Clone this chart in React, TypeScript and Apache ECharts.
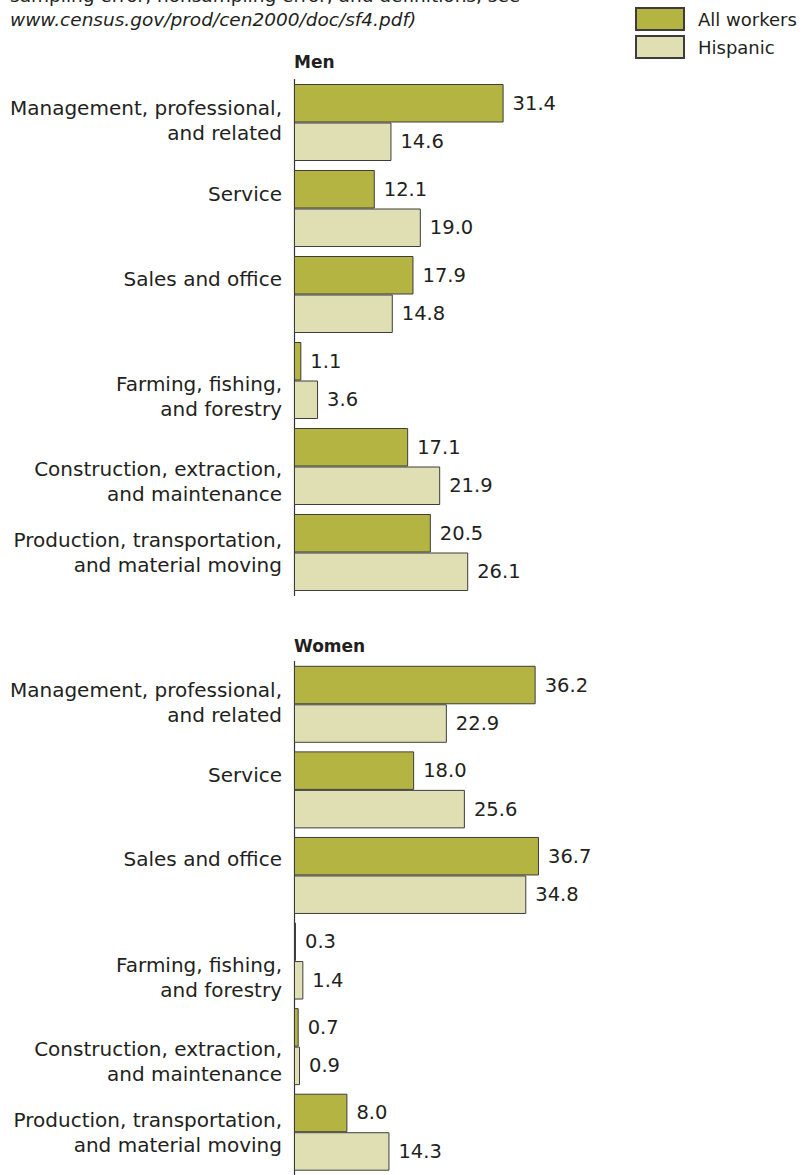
import React, { useEffect, useRef } from "react";
import * as echarts from "echarts";

const categories = [
  "Management, professional,\nand related",
  "Service",
  "Sales and office",
  "Farming, fishing,\nand forestry",
  "Construction, extraction,\nand maintenance",
  "Production, transportation,\nand material moving",
];
const seriesNames = ["All workers", "Hispanic"];
const menAll = [31.4, 12.1, 17.9, 1.1, 17.1, 20.5];
const menHispanic = [14.6, 19.0, 14.8, 3.6, 21.9, 26.1];
const womenAll = [36.2, 18.0, 36.7, 0.3, 0.7, 8.0];
const womenHispanic = [22.9, 25.6, 34.8, 1.4, 0.9, 14.3];
const panelTitles = ["Men", "Women"];
const noteLine1 = "sampling error, nonsampling error, and definitions, see";
const noteLine2 = "www.census.gov/prod/cen2000/doc/sf4.pdf)";

// vertical nudges of the category labels (px, + = down)
const labelShift = [-2, -15, -16, 16, 15, 0];

const FONT = "'DejaVu Sans', sans-serif";
const TEXT = "#231f20";
const COLORS = ["#b4b443", "#e0dfb3"];
const BORDER = "#3d3d3d";
const LABEL_SIZE = 20;
const LINE_H = 25;

export default function App() {
  const ref = useRef<HTMLDivElement>(null);
  useEffect(() => {
    if (!ref.current) return;
    const chart = echarts.init(ref.current, null, { renderer: "svg" });

    const baseTok = { fontSize: LABEL_SIZE, fontFamily: FONT, color: TEXT, lineHeight: LINE_H };
    const rich: any = { n: { ...baseTok } };
    labelShift.forEach((s, i) => {
      rich["sp" + i] = { fontSize: 2, fontFamily: FONT, lineHeight: Math.max(1, 2 * Math.abs(s)) };
    });

    const catFormatter = (value: string, index: number) => {
      const lines = value.split("\n").map((ln) => "{n|" + ln + "}");
      const s = labelShift[index];
      if (s !== 0) {
        const spacer = "{sp" + index + "| }";
        if (s < 0) lines.push(spacer);
        else lines.unshift(spacer);
      }
      return lines.join("\n");
    };

    const grids = [
      { left: 294, top: 79.5, width: 267, height: 516 },
      { left: 294, top: 661.5, width: 267, height: 518 },
    ];

    const yAxis = grids.map((_, gi) => ({
      type: "category",
      gridIndex: gi,
      inverse: true,
      data: categories,
      axisLine: { show: true, lineStyle: { color: "#333", width: 1.2 } },
      axisTick: { show: false },
      axisLabel: {
        margin: 12,
        fontSize: LABEL_SIZE,
        fontFamily: FONT,
        color: TEXT,
        lineHeight: LINE_H,
        align: "right",
        formatter: catFormatter,
        rich,
      },
    }));
    const xAxis = grids.map((_, gi) => ({
      type: "value",
      gridIndex: gi,
      min: 0,
      max: 40,
      show: false,
      splitLine: { show: false },
    }));

    const label = {
      show: true,
      position: "right",
      distance: 9,
      fontSize: 19.5,
      fontFamily: FONT,
      color: TEXT,
      formatter: (p: any) => Number(p.value).toFixed(1),
    };

    const panels = [
      [menAll, menHispanic],
      [womenAll, womenHispanic],
    ];
    const series: any[] = [];
    panels.forEach((vals, gi) => {
      vals.forEach((v, si) => {
        series.push({
          type: "bar",
          name: seriesNames[si],
          xAxisIndex: gi,
          yAxisIndex: gi,
          data: v,
          barWidth: 38.5,
          barGap: "0%",
          itemStyle: { color: COLORS[si], borderColor: BORDER, borderWidth: 1 },
          label,
        });
      });
    });

    const titleStyle = { fontFamily: FONT, fontSize: 17, fontWeight: "bold", color: TEXT };
    chart.setOption({
      animation: false,
      backgroundColor: "#ffffff",
      title: [
        { text: panelTitles[0], left: 294, top: 53, padding: 0, textStyle: titleStyle },
        { text: panelTitles[1], left: 294, top: 637, padding: 0, textStyle: titleStyle },
      ],
      legend: {
        data: seriesNames,
        orient: "vertical",
        left: 635,
        top: 7,
        itemWidth: 48,
        itemHeight: 22,
        itemGap: 4,
        icon: "rect",
        padding: 0,
        textStyle: { fontFamily: FONT, fontSize: 18, color: TEXT, padding: [0, 0, 0, 9] },
      },
      graphic: [
        {
          type: "text",
          left: 10,
          top: -14,
          style: { text: noteLine1, fontFamily: FONT, fontSize: 18.5, fill: TEXT },
        },
        {
          type: "text",
          left: 10,
          top: 10,
          style: {
            text: noteLine2,
            fontFamily: FONT,
            fontStyle: "italic",
            fontSize: 18.5,
            fill: TEXT,
          },
        },
      ],
      grid: grids,
      xAxis,
      yAxis,
      series,
    });
    return () => chart.dispose();
  }, []);
  return (
    <div
      ref={ref}
      style={{ position: "absolute", left: 0, top: 0, width: 810, height: 1175 }}
    />
  );
}
